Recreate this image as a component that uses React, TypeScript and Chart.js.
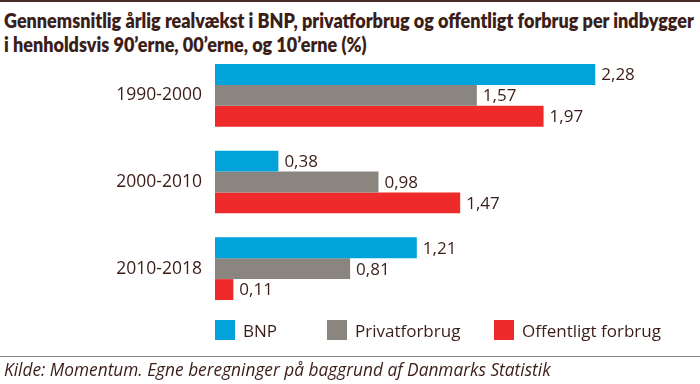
import React, { useEffect, useRef } from "react";
import { Chart, registerables } from "chart.js";

Chart.register(...registerables);

const categories = ["1990-2000", "2000-2010", "2010-2018"];
const seriesNames = ["BNP", "Privatforbrug", "Offentligt forbrug"];
const bnp = [2.28, 0.38, 1.21];
const privat = [1.57, 0.98, 0.81];
const offentligt = [1.97, 1.47, 0.11];
const colors = ["#02a3db", "#8a857e", "#ee2a2a"];

const titleLines = [
  "Gennemsnitlig årlig realvækst i BNP, privatforbrug og offentligt forbrug per indbygger",
  "i henholdsvis 90’erne, 00’erne, og 10’erne (%)",
];
const sourceText = "Kilde: Momentum. Egne beregninger på baggrund af Danmarks Statistik";

const TEXT = "#3b1e18";
const FONT = "'Open Sans', sans-serif";

const valueLabels = {
  id: "valueLabels",
  afterDatasetsDraw(chart: any) {
    const ctx = chart.ctx;
    ctx.save();
    ctx.font = `17px ${FONT}`;
    ctx.fillStyle = TEXT;
    ctx.textAlign = "left";
    ctx.textBaseline = "middle";
    chart.data.datasets.forEach((ds: any, i: number) => {
      const meta = chart.getDatasetMeta(i);
      meta.data.forEach((bar: any, j: number) => {
        const v = ds.data[j] as number;
        ctx.fillText(v.toFixed(2).replace(".", ","), bar.x + 6, bar.y + 1);
      });
    });
    ctx.restore();
  },
};

export default function App() {
  const ref = useRef<HTMLCanvasElement | null>(null);

  useEffect(() => {
    document.body.style.margin = "0";
    const chart = new Chart(ref.current!, {
      type: "bar",
      data: {
        labels: categories,
        datasets: [bnp, privat, offentligt].map((d, i) => ({
          label: seriesNames[i],
          data: d,
          backgroundColor: colors[i],
          borderWidth: 0,
          barPercentage: 1,
          categoryPercentage: 0.724,
        })),
      },
      options: {
        indexAxis: "y",
        animation: false,
        responsive: false,
        maintainAspectRatio: false,
        layout: { padding: { top: 52, bottom: 72, left: 0, right: 18 } },
        plugins: {
          legend: { display: false },
          title: { display: false },
          tooltip: { enabled: false },
        },
        scales: {
          x: {
            min: 0,
            max: 2.8,
            display: false,
          },
          y: {
            grid: { display: false, drawTicks: false },
            border: { display: false },
            ticks: {
              color: TEXT,
              font: { family: FONT, size: 17.5 },
              padding: 13,
            },
            afterFit: (axis: any) => {
              axis.width = 215;
            },
          },
        },
      },
      plugins: [valueLabels],
    });
    return () => chart.destroy();
  }, []);

  const legendX = [215, 327, 494];

  return (
    <div
      style={{
        position: "relative",
        width: 700,
        height: 384,
        background: "#ffffff",
        overflow: "hidden",
        fontFamily: FONT,
        color: TEXT,
      }}
    >
      <div style={{ position: "absolute", left: 0, top: 0, width: 700, height: 2, background: "#4a2a24" }} />
      <div
        style={{
          position: "absolute",
          left: 4,
          top: 8,
          fontFamily: "Lato, sans-serif",
          fontWeight: 800,
          fontSize: 20,
          lineHeight: "24px",
          whiteSpace: "nowrap",
          transformOrigin: "0 0",
          transform: "scaleX(0.9)",
        }}
      >
        {titleLines.map((l, i) => (
          <div key={i}>{l}</div>
        ))}
      </div>
      <canvas ref={ref} width={700} height={384} style={{ position: "absolute", left: 0, top: 0 }} />
      {seriesNames.map((n, i) => (
        <div
          key={n}
          style={{
            position: "absolute",
            left: legendX[i],
            top: 320,
            height: 20,
            display: "flex",
            alignItems: "center",
            fontSize: 17,
            whiteSpace: "nowrap",
          }}
        >
          <span style={{ display: "inline-block", width: 20, height: 20, background: colors[i], marginRight: 8 }} />
          <span>{n}</span>
        </div>
      ))}
      <div style={{ position: "absolute", left: 0, top: 356, width: 700, height: 1, background: "#8a7f7a" }} />
      <div
        style={{
          position: "absolute",
          left: 4,
          top: 358,
          fontSize: 17.3,
          fontStyle: "italic",
          whiteSpace: "nowrap",
          lineHeight: "24px",
        }}
      >
        {sourceText}
      </div>
    </div>
  );
}
